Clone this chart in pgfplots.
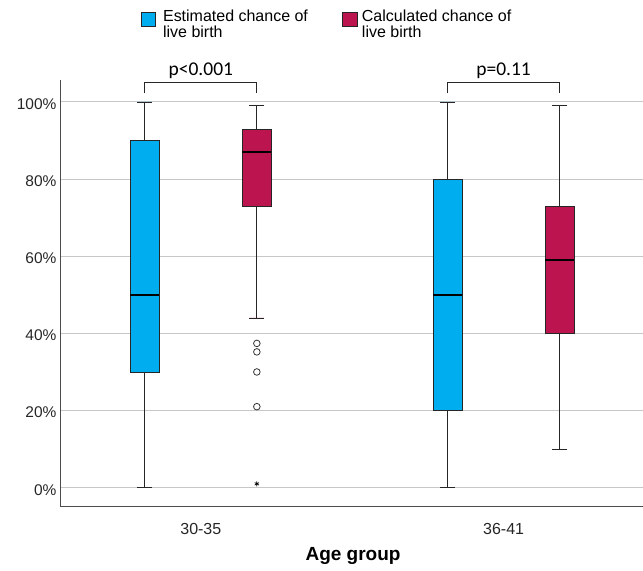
\documentclass[border=0pt]{standalone}
\usepackage{pgfplots}
\pgfplotsset{compat=1.18}
\usepgfplotslibrary{statistics}
\usepackage{fontspec}
\setmainfont{Liberation Sans}
\newfontfamily\carlito{Carlito}
\definecolor{cblue}{RGB}{0,174,239}
\definecolor{cred}{RGB}{188,20,78}
\begin{document}
\begin{tikzpicture}
\begin{axis}[
 scale only axis, width=583pt, height=427pt,
 xmin=0.5347, xmax=2.459, ymin=-4.92, ymax=105.7,
 axis x line*=bottom, axis y line*=left,
 axis line style={draw=black!70, line width=0.9pt},
 xtick={1,2}, xticklabels={30-35,36-41},
 ytick={0,20,40,60,80,100}, yticklabels={0\%,20\%,40\%,60\%,80\%,100\%},
 major tick length=0pt,
 ymajorgrids, grid style={draw=black!22, line width=0.9pt},
 tick label style={text=black!85},
 yticklabel style={font=\fontsize{15.5}{17}\selectfont, yshift=-2pt},
 xticklabel style={font=\fontsize{16}{18}\selectfont, anchor=base, yshift=-28pt},
 xlabel={Age group},
 xlabel style={font=\fontsize{19}{22}\selectfont\bfseries, at={(axis description cs:0.503,0)}, anchor=base, yshift=-54pt},
 clip=false,
 boxplot/draw direction=y,
 boxplot/every median/.style={line width=1.8pt, draw=black},
]
\addplot[fill=cblue, draw=black!85, line width=0.8pt, boxplot prepared={draw position=0.815, lower whisker=0, lower quartile=30, median=50, upper quartile=90, upper whisker=100, box extend=0.096, whisker extend=0.05}] table[row sep=\\, y index=0] {y\\};
\addplot[fill=cred, draw=black!85, line width=0.8pt, mark=o, mark size=3.3pt, mark options={draw=black!80, fill=none, line width=0.8pt}, boxplot prepared={draw position=1.185, lower whisker=44, lower quartile=73, median=87, upper quartile=93, upper whisker=99, box extend=0.096, whisker extend=0.05}] table[row sep=\\, y index=0] {y\\ 37.4\\ 35.2\\ 30\\ 21\\};
\addplot[only marks, mark=asterisk, mark size=2.5pt, mark options={draw=black, line width=0.7pt}] coordinates {(1.185,1)};
\addplot[fill=cblue, draw=black!85, line width=0.8pt, boxplot prepared={draw position=1.815, lower whisker=0, lower quartile=20, median=50, upper quartile=80, upper whisker=100, box extend=0.096, whisker extend=0.05}] table[row sep=\\, y index=0] {y\\};
\addplot[fill=cred, draw=black!85, line width=0.8pt, boxplot prepared={draw position=2.185, lower whisker=10, lower quartile=40, median=59, upper quartile=73, upper whisker=99, box extend=0.096, whisker extend=0.05}] table[row sep=\\, y index=0] {y\\};
\draw[black!85, line width=1pt] (axis cs:0.815,102.2) -- (axis cs:0.815,105) -- (axis cs:1.185,105) -- (axis cs:1.185,102.2);
\draw[black!85, line width=1pt] (axis cs:1.815,102.2) -- (axis cs:1.815,105) -- (axis cs:2.185,105) -- (axis cs:2.185,102.2);
\node[anchor=base, inner sep=0pt, font=\carlito\fontsize{19.5}{22}\selectfont] at (axis cs:1,106.9) {p<0.001};
\node[anchor=base, inner sep=0pt, font=\carlito\fontsize{19.5}{22}\selectfont] at (axis cs:2,106.9) {p=0.11};
\end{axis}
\path (-60pt,-64pt) rectangle (583pt,507pt);
\draw[fill=cblue, draw=black!85, line width=0.8pt] (81pt,481pt) rectangle (96pt,495pt);
\node[anchor=base west, inner sep=0pt, font=\fontsize{16}{18}\selectfont] at (103pt,485pt) {Estimated chance of};
\node[anchor=base west, inner sep=0pt, font=\fontsize{16}{18}\selectfont] at (103pt,469pt) {live birth};
\draw[fill=cred, draw=black!85, line width=0.8pt] (283pt,481pt) rectangle (298pt,495pt);
\node[anchor=base west, inner sep=0pt, font=\fontsize{16}{18}\selectfont] at (302pt,485pt) {Calculated chance of};
\node[anchor=base west, inner sep=0pt, font=\fontsize{16}{18}\selectfont] at (302pt,469pt) {live birth};
\end{tikzpicture}
\end{document}
